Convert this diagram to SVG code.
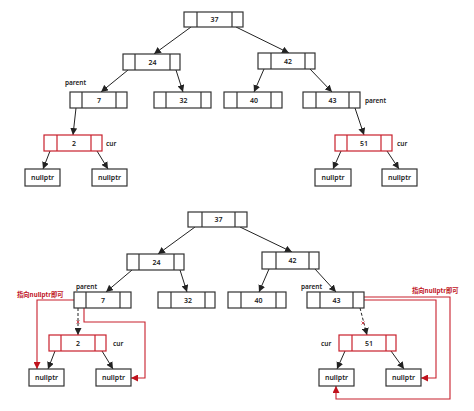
<svg xmlns="http://www.w3.org/2000/svg" width="474" height="411" viewBox="0 0 474 411">
<defs>
<marker id="ah" viewBox="0 0 10 10" refX="10" refY="5" markerWidth="7" markerHeight="7" markerUnits="userSpaceOnUse" orient="auto"><path d="M0,0 L10,5 L0,10 z" fill="#222"/></marker>
<marker id="ahr" viewBox="0 0 10 10" refX="10" refY="5" markerWidth="7" markerHeight="7" markerUnits="userSpaceOnUse" orient="auto"><path d="M0,0 L10,5 L0,10 z" fill="#c0121c"/></marker>
</defs>
<style>
.b{fill:#fff;stroke:#333;stroke-width:1.2}
.r{fill:#fff;stroke:#c8202c;stroke-width:1.2}
.d{stroke:#333;stroke-width:1.2}
.dr{stroke:#c8202c;stroke-width:1.2}
text{font-family:"Noto Sans","DejaVu Sans",sans-serif;font-size:7px;font-weight:600;fill:#222;text-anchor:middle}
.lb{text-anchor:start;font-size:6.5px}
.red{fill:#c0121c;font-family:"Noto Sans CJK SC","Noto Sans",sans-serif;font-weight:700;font-size:6.3px;text-anchor:start}
.e{stroke:#222;stroke-width:1;fill:none;marker-end:url(#ah)}
.er{stroke:#c8202c;stroke-width:1.1;fill:none;marker-end:url(#ahr)}
.dash{stroke:#222;stroke-width:1;fill:none;stroke-dasharray:3,2;marker-end:url(#ah)}
.x{stroke:#c8202c;stroke-width:0.8}
</style>
<rect width="474" height="411" fill="#fff"/>
<g id="connectors">
<line class="e" x1="191" y1="27" x2="154" y2="54"/>
<line class="e" x1="236" y1="27" x2="289" y2="53"/>
<line class="e" x1="128" y1="70" x2="101" y2="92"/>
<line class="e" x1="176" y1="70" x2="183" y2="92"/>
<line class="e" x1="264" y1="69" x2="254" y2="92"/>
<line class="e" x1="310" y1="69" x2="332" y2="92"/>
<line class="e" x1="76" y1="108" x2="73" y2="135"/>
<line class="e" x1="355" y1="108" x2="364" y2="135"/>
<line class="e" x1="50" y1="151" x2="43" y2="169"/>
<line class="e" x1="97" y1="151" x2="108" y2="169"/>
<line class="e" x1="341" y1="151" x2="333" y2="169"/>
<line class="e" x1="387" y1="151" x2="399" y2="169"/>
<line class="e" x1="195" y1="227" x2="158" y2="254"/>
<line class="e" x1="240" y1="227" x2="292" y2="252"/>
<line class="e" x1="132" y1="270" x2="106" y2="292"/>
<line class="e" x1="180" y1="270" x2="187" y2="292"/>
<line class="e" x1="269" y1="269" x2="259" y2="292"/>
<line class="e" x1="315" y1="269" x2="336" y2="292"/>
<line class="dash" x1="78" y1="308" x2="78" y2="335"/>
<line class="dash" x1="360" y1="308" x2="367" y2="335"/>
<line class="x" x1="76.5" y1="320.5" x2="79.5" y2="323.5"/><line class="x" x1="79.5" y1="320.5" x2="76.5" y2="323.5"/>
<line class="x" x1="361.5" y1="321.5" x2="364.5" y2="324.5"/><line class="x" x1="364.5" y1="321.5" x2="361.5" y2="324.5"/>
<line class="e" x1="55" y1="351" x2="48" y2="369"/>
<line class="e" x1="102" y1="351" x2="113" y2="369"/>
<line class="e" x1="345" y1="351" x2="337" y2="369"/>
<line class="e" x1="391" y1="351" x2="404" y2="369"/>
<polyline class="er" points="74,300 37,300 37,369"/>
<polyline class="er" points="84,308 84,322 145,322 145,378 131,378"/>
<polyline class="er" points="364,297 450,297 450,399 336,399 336,386"/>
<polyline class="er" points="364,300 436,300 436,378 421,378"/>
</g>
<g id="n37"><rect class="b" x="184" y="12" width="59" height="15"/><line class="d" x1="197" y1="12" x2="197" y2="27"/><line class="d" x1="232" y1="12" x2="232" y2="27"/><text x="214.5" y="22">37</text></g>
<g id="n24"><rect class="b" x="123" y="54" width="57" height="16"/><line class="d" x1="135" y1="54" x2="135" y2="70"/><line class="d" x1="170" y1="54" x2="170" y2="70"/><text x="152.5" y="64.5">24</text></g>
<g id="n42"><rect class="b" x="258" y="53" width="57" height="16"/><line class="d" x1="271" y1="53" x2="271" y2="69"/><line class="d" x1="305" y1="53" x2="305" y2="69"/><text x="288" y="63.5">42</text></g>
<g id="n7"><rect class="b" x="70" y="92" width="57" height="16"/><line class="d" x1="82" y1="92" x2="82" y2="108"/><line class="d" x1="116" y1="92" x2="116" y2="108"/><text x="99" y="102.5">7</text></g>
<g id="n32"><rect class="b" x="154" y="92" width="57" height="16"/><line class="d" x1="166" y1="92" x2="166" y2="108"/><line class="d" x1="201" y1="92" x2="201" y2="108"/><text x="183.5" y="102.5">32</text></g>
<g id="n40"><rect class="b" x="224" y="92" width="58" height="16"/><line class="d" x1="237" y1="92" x2="237" y2="108"/><line class="d" x1="271" y1="92" x2="271" y2="108"/><text x="254" y="102.5">40</text></g>
<g id="n43"><rect class="b" x="303" y="92" width="57" height="16"/><line class="d" x1="316" y1="92" x2="316" y2="108"/><line class="d" x1="349" y1="92" x2="349" y2="108"/><text x="332.5" y="102.5">43</text></g>
<g id="n2"><rect class="r" x="44" y="135" width="58" height="16"/><line class="dr" x1="57" y1="135" x2="57" y2="151"/><line class="dr" x1="91" y1="135" x2="91" y2="151"/><text x="74" y="145.5">2</text></g>
<g id="n51"><rect class="r" x="335" y="135" width="57" height="16"/><line class="dr" x1="347" y1="135" x2="347" y2="151"/><line class="dr" x1="381" y1="135" x2="381" y2="151"/><text x="364" y="145.5">51</text></g>
<g id="n2l"><rect class="b" x="25" y="169" width="35" height="17"/><text x="42.5" y="180">nullptr</text></g>
<g id="n2r"><rect class="b" x="92" y="169" width="35" height="17"/><text x="109.5" y="180">nullptr</text></g>
<g id="n51l"><rect class="b" x="315" y="169" width="36" height="17"/><text x="333" y="180">nullptr</text></g>
<g id="n51r"><rect class="b" x="382" y="169" width="35" height="17"/><text x="399.5" y="180">nullptr</text></g>
<g id="labels-top"><text class="lb" x="65" y="84.5">parent</text><text class="lb" x="106" y="145.5">cur</text><text class="lb" x="365" y="103">parent</text><text class="lb" x="397" y="145.5">cur</text></g>
<g id="b37"><rect class="b" x="188" y="212" width="59" height="15"/><line class="d" x1="202" y1="212" x2="202" y2="227"/><line class="d" x1="235" y1="212" x2="235" y2="227"/><text x="218.5" y="222">37</text></g>
<g id="b24"><rect class="b" x="127" y="254" width="57" height="16"/><line class="d" x1="139" y1="254" x2="139" y2="270"/><line class="d" x1="174" y1="254" x2="174" y2="270"/><text x="156.5" y="264.5">24</text></g>
<g id="b42"><rect class="b" x="262" y="252" width="57" height="17"/><line class="d" x1="276" y1="252" x2="276" y2="269"/><line class="d" x1="309" y1="252" x2="309" y2="269"/><text x="292.5" y="263">42</text></g>
<g id="b7"><rect class="b" x="74" y="292" width="57" height="16"/><line class="d" x1="86" y1="292" x2="86" y2="308"/><line class="d" x1="120" y1="292" x2="120" y2="308"/><text x="103" y="302.5">7</text></g>
<g id="b32"><rect class="b" x="158" y="292" width="57" height="16"/><line class="d" x1="171" y1="292" x2="171" y2="308"/><line class="d" x1="205" y1="292" x2="205" y2="308"/><text x="188" y="302.5">32</text></g>
<g id="b40"><rect class="b" x="228" y="292" width="58" height="16"/><line class="d" x1="241" y1="292" x2="241" y2="308"/><line class="d" x1="276" y1="292" x2="276" y2="308"/><text x="258.5" y="302.5">40</text></g>
<g id="b43"><rect class="b" x="307" y="292" width="57" height="16"/><line class="d" x1="320" y1="292" x2="320" y2="308"/><line class="d" x1="353" y1="292" x2="353" y2="308"/><text x="336.5" y="302.5">43</text></g>
<g id="b2"><rect class="r" x="49" y="335" width="57" height="16"/><line class="dr" x1="61" y1="335" x2="61" y2="351"/><line class="dr" x1="95" y1="335" x2="95" y2="351"/><text x="78" y="345.5">2</text></g>
<g id="b51"><rect class="r" x="339" y="335" width="57" height="16"/><line class="dr" x1="352" y1="335" x2="352" y2="351"/><line class="dr" x1="386" y1="335" x2="386" y2="351"/><text x="369" y="345.5">51</text></g>
<g id="b2l"><rect class="b" x="29" y="369" width="35" height="17"/><text x="46.5" y="380">nullptr</text></g>
<g id="b2r"><rect class="b" x="96" y="369" width="35" height="17"/><text x="113.5" y="380">nullptr</text></g>
<g id="b51l"><rect class="b" x="319" y="369" width="35" height="17"/><text x="336.5" y="380">nullptr</text></g>
<g id="b51r"><rect class="b" x="386" y="369" width="35" height="17"/><text x="403.5" y="380">nullptr</text></g>
<g id="labels-bottom"><text class="lb" x="76" y="288.5">parent</text><text class="lb" x="113" y="346">cur</text><text class="lb" x="301" y="288.5">parent</text><text class="lb" x="321" y="346">cur</text><text class="red" x="17" y="296.5">指向nullptr即可</text><text class="red" x="412" y="292.5">指向nullptr即可</text></g>
</svg>
